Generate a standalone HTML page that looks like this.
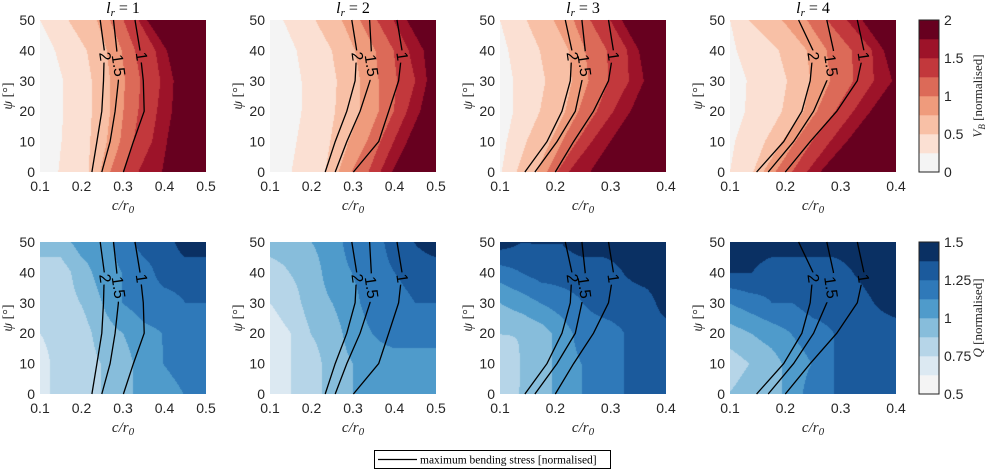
<!DOCTYPE html>
<html><head><meta charset="utf-8"><style>
body{margin:0;background:#fff;width:991px;height:470px;overflow:hidden;position:relative;font-family:"Liberation Sans",sans-serif}
svg{position:absolute;left:0;top:0}
canvas{position:absolute}
</style></head><body>
<div id="plots"></div>
<svg id="ov" width="991" height="470"></svg>
<script>
// ---------- DATA ----------
const psiSamples=[0,10,20,30,40,50];
const xRanges=[[0.1,0.5],[0.1,0.5],[0.1,0.4],[0.1,0.4]];
const panelTitles=["1","2","3","4"];
const xTicks1=[0.1,0.2,0.3,0.4,0.5];
const xTicks2=[0.1,0.2,0.3,0.4];
const yTicks=[0,10,20,30,40,50];
const vbTicks=[0,0.5,1,1.5,2];
const qTicks=[0.5,0.75,1,1.25,1.5];
const vbColors=["#f4f4f4","#fbe0d3","#f8c0a6","#ef9b7c","#dc6a58","#c2383c","#9d1329","#67001f"];
const qColors=["#f4f4f4","#dce9f2","#b6d5e8","#87bddb","#4f9bcb","#2f79b9","#1b5a9c","#0a3063"];
// V_B band boundaries (c/r0 at psi = 0..50), lr = 1..4
const vb1=[[0.144,0.152,0.156,0.156,0.136,0.100],[0.217,0.221,0.225,0.225,0.213,0.168],[0.245,0.261,0.269,0.269,0.261,0.237],[0.269,0.293,0.301,0.305,0.297,0.269],[0.301,0.325,0.337,0.342,0.329,0.301],[0.337,0.370,0.382,0.390,0.378,0.337],[0.394,0.406,0.418,0.422,0.406,0.358]];
const vb2=[[0.152,0.164,0.176,0.176,0.164,0.132],[0.233,0.245,0.257,0.261,0.249,0.209],[0.265,0.289,0.317,0.317,0.305,0.273],[0.297,0.333,0.362,0.362,0.354,0.317],[0.337,0.366,0.398,0.406,0.398,0.358],[0.366,0.398,0.430,0.450,0.434,0.398],[0.394,0.430,0.462,0.478,0.470,0.430]];
const vb3=[[0.103,0.112,0.124,0.124,0.115,0.100],[0.130,0.148,0.172,0.182,0.172,0.148],[0.166,0.191,0.218,0.230,0.224,0.197],[0.185,0.212,0.242,0.260,0.254,0.233],[0.203,0.239,0.275,0.296,0.293,0.263],[0.224,0.266,0.305,0.333,0.330,0.299],[0.263,0.299,0.336,0.360,0.351,0.320]];
const vb4=[[0.100,0.109,0.127,0.130,0.112,0.100],[0.142,0.163,0.194,0.203,0.188,0.133],[0.160,0.194,0.233,0.245,0.239,0.194],[0.182,0.218,0.257,0.281,0.275,0.239],[0.212,0.248,0.290,0.323,0.320,0.275],[0.239,0.281,0.323,0.360,0.357,0.311],[0.263,0.311,0.354,0.393,0.378,0.339]];
// Q grids: rows psi = 0..50, columns evenly spaced across c/r0 range (9 points)
const q1=[[0.69,0.81,0.81,0.88,0.94,1.06,1.06,1.13,1.19],[0.69,0.81,0.81,0.88,0.94,1.06,1.13,1.19,1.19],[0.75,0.81,0.81,0.94,1.00,1.09,1.13,1.13,1.19],[0.81,0.81,0.88,1.00,1.13,1.19,1.19,1.25,1.25],[0.81,0.81,0.94,1.06,1.13,1.19,1.31,1.31,1.31],[0.94,0.94,1.06,1.06,1.19,1.31,1.31,1.44,1.44]];
const q2=[[0.69,0.75,0.81,0.94,1.00,1.06,1.06,1.06,1.06],[0.69,0.75,0.81,0.94,1.00,1.06,1.06,1.06,1.06],[0.69,0.75,0.88,0.94,1.06,1.13,1.19,1.19,1.19],[0.75,0.81,0.94,1.00,1.09,1.19,1.19,1.25,1.25],[0.81,0.88,0.94,1.06,1.13,1.19,1.25,1.31,1.31],[0.94,0.94,1.00,1.06,1.19,1.19,1.31,1.38,1.44]];
const q3=[[0.81,0.88,0.94,1.06,1.13,1.19,1.25,1.31,1.31],[0.75,0.88,0.94,1.06,1.13,1.19,1.25,1.31,1.31],[0.88,0.88,0.94,1.06,1.19,1.19,1.25,1.31,1.31],[1.00,1.06,1.13,1.19,1.25,1.31,1.31,1.31,1.44],[1.19,1.25,1.31,1.31,1.31,1.31,1.38,1.44,1.44],[1.44,1.38,1.38,1.38,1.44,1.44,1.44,1.44,1.44]];
const q4=[[0.88,0.94,0.94,1.06,1.19,1.25,1.25,1.31,1.31],[0.81,0.88,0.94,1.06,1.13,1.25,1.25,1.25,1.31],[0.94,1.00,1.06,1.13,1.19,1.25,1.25,1.31,1.31],[1.13,1.19,1.25,1.25,1.31,1.31,1.31,1.38,1.44],[1.38,1.38,1.31,1.31,1.31,1.31,1.38,1.44,1.44],[1.44,1.44,1.44,1.44,1.44,1.44,1.44,1.44,1.44]];
// stress contour lines (c/r0 at psi = 0..50): levels 2, 1.5, 1
const stressLevels=["2","1.5","1"];
const s1=[[0.225,0.237,0.249,0.253,0.255,0.245],[0.249,0.269,0.281,0.289,0.285,0.277],[0.301,0.325,0.351,0.349,0.341,0.329]];
const s2=[[0.233,0.257,0.285,0.305,0.309,0.297],[0.257,0.285,0.317,0.341,0.344,0.340],[0.301,0.362,0.386,0.410,0.418,0.406]];
const s3=[[0.145,0.185,0.212,0.227,0.230,0.218],[0.163,0.203,0.236,0.248,0.254,0.248],[0.200,0.233,0.269,0.296,0.305,0.296]];
const s4=[[0.148,0.197,0.230,0.245,0.250,0.224],[0.169,0.215,0.251,0.275,0.287,0.275],[0.200,0.245,0.293,0.330,0.342,0.330]];
const labelPsi=[38,35,38];

// ---------- LAYOUT ----------
const PX=[40,270,500,730], PW=166, PH=152, ROWY=[20,242];
const vbSets=[vb1,vb2,vb3,vb4], qSets=[q1,q2,q3,q4], sSets=[s1,s2,s3,s4];
const NS="http://www.w3.org/2000/svg";
const ov=document.getElementById('ov'), plots=document.getElementById('plots');
const defs=document.createElementNS(NS,'defs');ov.appendChild(defs);
function sv(tag,attrs,parent){const e=document.createElementNS(NS,tag);for(const k in attrs)e.setAttribute(k,attrs[k]);(parent||ov).appendChild(e);return e;}
function interp(arr,psi){const t=psi/10;let i=Math.min(4,Math.floor(t));const f=t-i;return arr[i]*(1-f)+arr[i+1]*f;}

for(let p=0;p<4;p++){
  const [x0,x1]=xRanges[p];
  const xs=c=>PX[p]+(c-x0)/(x1-x0)*PW;
  for(let r=0;r<2;r++){
    const top=ROWY[r];
    const ys=psi=>top+PH-psi/50*PH;
    const cv=document.createElement('canvas');
    cv.width=PW;cv.height=PH;cv.style.left=PX[p]+'px';cv.style.top=top+'px';
    
    
    plots.appendChild(cv);
    const ctx=cv.getContext('2d');
    for(let j=0;j<PH;j++){
      const psi=(PH-j-0.5)/PH*50;
      for(let i=0;i<PW;i++){
        const c=x0+(i+0.5)/PW*(x1-x0);
        let band;
        if(r==0){band=0;for(const b of vbSets[p]){if(c>interp(b,psi))band++;}}
        else{
          const g=qSets[p];const gx=(i+0.5)/PW*8, gy=psi/10;
          const ix=Math.min(7,Math.floor(gx)),iy=Math.min(4,Math.floor(gy));const fx=gx-ix,fy=gy-iy;
          const v=g[iy][ix]*(1-fx)*(1-fy)+g[iy][ix+1]*fx*(1-fy)+g[iy+1][ix]*(1-fx)*fy+g[iy+1][ix+1]*fx*fy;
          band=Math.max(0,Math.min(7,Math.floor((v-0.5)/0.125+1e-6)));
        }
        ctx.fillStyle=(r==0?vbColors:qColors)[band];
        ctx.fillRect(i,j,1,1);
      }
    }
    // mask for label gaps
    const mid='m'+p+'_'+r;
    const mk=sv('mask',{id:mid,maskUnits:'userSpaceOnUse',x:0,y:0,width:991,height:470},defs);
    sv('rect',{x:0,y:0,width:991,height:470,fill:'#fff'},mk);
    const lineG=sv('g',{mask:`url(#${mid})`});
    
    
    sSets[p].forEach((line,k)=>{
      const pts=psiSamples.map((psi,m)=>xs(line[m]).toFixed(1)+','+ys(psi).toFixed(1)).join(' ');
      const pl=sv('polyline',{points:pts,fill:'none',stroke:'#000','stroke-width':1.3},lineG);
      
      
      const lp=labelPsi[k];
      const lx=xs(interp(line,lp)), ly=ys(lp);
      const L=stressLevels[k].length*8+4;
      sv('rect',{x:lx-L/2,y:ly-7,width:L,height:14,fill:'#000',transform:`rotate(82 ${lx} ${ly})`},mk);
      const t=sv('text',{x:lx,y:ly,'font-size':16,'text-anchor':'middle','dominant-baseline':'central',transform:`rotate(82 ${lx} ${ly})`,fill:'#000'});
      t.textContent=stressLevels[k];
      
      
    });
    yTicks.forEach(v=>{
      const t=sv('text',{x:PX[p]-5,y:ys(v)+5,'font-size':14,'text-anchor':'end',fill:'#262626'});
      t.textContent=v;
      
      
    });
    (p<2?xTicks1:xTicks2).forEach(v=>{
      const t=sv('text',{x:xs(v),y:top+PH+19,'font-size':14,'text-anchor':'middle',fill:'#262626'});
      t.textContent=v.toFixed(1);
      
      
    });
    const xl=sv('text',{x:PX[p]+PW/2,y:top+PH+38,'font-size':15,'text-anchor':'middle','font-family':'Liberation Serif, serif','font-style':'italic',fill:'#262626'});
    xl.innerHTML='c/r<tspan font-size="11" dy="3">0</tspan>';
    
    
    const yx=PX[p]-28, yy=top+PH/2;
    const yl=sv('text',{x:yx,y:yy,'font-size':14,'text-anchor':'middle','font-family':'Liberation Serif, serif',fill:'#262626',transform:`rotate(-90 ${yx} ${yy})`});
    yl.innerHTML='<tspan font-style="italic">ψ</tspan> [°]';
    
    
    if(r==0){
      const tt=sv('text',{x:PX[p]+PW/2,y:13,'font-size':16,'text-anchor':'middle','font-family':'Liberation Serif, serif',fill:'#000'});
      tt.innerHTML='<tspan font-style="italic">l</tspan><tspan font-style="italic" font-size="11" dy="3">r</tspan><tspan dy="-3"> = '+panelTitles[p]+'</tspan>';
      
      
    }
  }
}
[[vbColors,vbTicks,ROWY[0],'V','B'],[qColors,qTicks,ROWY[1],'Q','']].forEach(([cols,ticks,top,sym,sub],r)=>{
  const g=sv('g',{});
  
  
  const h=PH/8;
  cols.forEach((c,i)=>{sv('rect',{x:919,y:top+PH-(i+1)*h,width:20,height:h+0.3,fill:c},g);});
  sv('rect',{x:919,y:top,width:20,height:PH,fill:'none',stroke:'#222','stroke-width':1},g);
  ticks.forEach((v,i)=>{
    const t=sv('text',{x:944,y:top+PH-i*PH/(ticks.length-1)+5,'font-size':14,fill:'#262626'},g);
    t.textContent=v;
  });
  const lx=982, ly=top+PH/2;
  const t=sv('text',{x:lx,y:ly,'font-size':13,'text-anchor':'middle','font-family':'Liberation Serif, serif',fill:'#262626',transform:`rotate(-90 ${lx} ${ly})`},g);
  t.innerHTML='<tspan font-style="italic">'+sym+'</tspan>'+(sub?'<tspan font-style="italic" font-size="9" dy="3">'+sub+'</tspan><tspan dy="-3"> </tspan>':' ')+'[normalised]';
});
const lg=sv('g',{});


sv('rect',{x:374.5,y:450.5,width:236,height:18,fill:'#fff',stroke:'#000','stroke-width':1},lg);
sv('line',{x1:378,y1:459.5,x2:417,y2:459.5,stroke:'#000','stroke-width':1.3},lg);
const lt=sv('text',{x:420,y:463.5,'font-size':11.5,'font-family':'Liberation Serif, serif',fill:'#000'},lg);
lt.textContent='maximum bending stress [normalised]';
</script>
</body></html>
